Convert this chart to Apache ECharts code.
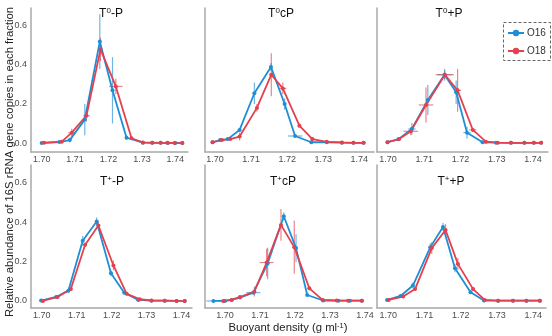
<!DOCTYPE html>
<html>
<head>
<meta charset="utf-8">
<script src="https://cdn.jsdelivr.net/npm/echarts@6/dist/echarts.min.js"></script>
<style>
  html, body { margin: 0; padding: 0; background: #fff; }
  #chart { width: 552px; height: 336px; }
</style>
</head>
<body>
<div id="chart"></div>
<script>
// rows: [buoyant density, relative abundance, density sd, abundance sd]
var t0P_O16 = [[1.7000,0.000,0.0003,0.003],[1.7053,0.005,0.0005,0.003],[1.7084,0.015,0.0005,0.012],[1.7129,0.120,0.0005,0.080],[1.7174,0.520,0.0005,0.140],[1.7212,0.270,0.0005,0.170],[1.7254,0.027,0.0005,0.010],[1.7303,0.002,0.0005,0.002],[1.7331,0.001,0.0005,0.002],[1.7356,0.001,0.0005,0.002],[1.7378,0.000,0.0005,0.002],[1.7400,0.000,0.0005,0.002],[1.7421,0.000,0.0005,0.002]];
var t0P_O18 = [[1.7007,0.002,0.0005,0.003],[1.7060,0.007,0.0005,0.004],[1.7090,0.053,0.0010,0.020],[1.7134,0.140,0.0010,0.030],[1.7176,0.480,0.0005,0.060],[1.7222,0.290,0.0020,0.040],[1.7269,0.024,0.0005,0.006],[1.7303,0.003,0.0005,0.002],[1.7331,0.002,0.0005,0.002],[1.7356,0.001,0.0005,0.002],[1.7376,0.001,0.0005,0.002],[1.7398,0.000,0.0005,0.002],[1.7421,0.000,0.0005,0.002]];

var t0cP_O16 = [[1.6993,0.004,0.0005,0.003],[1.7014,0.015,0.0005,0.004],[1.7035,0.020,0.0005,0.004],[1.7068,0.067,0.0005,0.010],[1.7109,0.255,0.0005,0.055],[1.7155,0.390,0.0005,0.020],[1.7193,0.200,0.0005,0.030],[1.7222,0.036,0.0020,0.005],[1.7267,0.004,0.0005,0.002],[1.7310,0.004,0.0005,0.002],[1.7352,0.002,0.0005,0.002],[1.7384,0.001,0.0005,0.002],[1.7412,0.001,0.0005,0.002]];
var t0cP_O18 = [[1.6993,0.004,0.0005,0.003],[1.7019,0.015,0.0005,0.004],[1.7042,0.020,0.0005,0.004],[1.7068,0.033,0.0005,0.020],[1.7116,0.180,0.0005,0.020],[1.7156,0.350,0.0005,0.110],[1.7188,0.280,0.0010,0.030],[1.7234,0.089,0.0005,0.010],[1.7270,0.020,0.0005,0.004],[1.7310,0.006,0.0005,0.002],[1.7352,0.003,0.0005,0.002],[1.7384,0.001,0.0005,0.002],[1.7412,0.001,0.0005,0.002]];

var t0pP_O16 = [[1.6999,0.004,0.0005,0.003],[1.7029,0.019,0.0005,0.005],[1.7066,0.072,0.0010,0.030],[1.7110,0.220,0.0005,0.077],[1.7156,0.350,0.0020,0.030],[1.7188,0.260,0.0005,0.060],[1.7218,0.053,0.0010,0.030],[1.7261,0.004,0.0005,0.002],[1.7298,0.002,0.0005,0.002],[1.7339,0.001,0.0005,0.002],[1.7376,0.001,0.0005,0.002],[1.7402,0.001,0.0005,0.002],[1.7422,0.001,0.0005,0.002]];
var t0pP_O18 = [[1.6999,0.004,0.0005,0.003],[1.7031,0.020,0.0005,0.005],[1.7063,0.060,0.0020,0.020],[1.7105,0.195,0.0020,0.090],[1.7157,0.350,0.0025,0.020],[1.7192,0.270,0.0010,0.110],[1.7234,0.067,0.0010,0.010],[1.7270,0.007,0.0005,0.002],[1.7303,0.002,0.0005,0.002],[1.7339,0.001,0.0005,0.002],[1.7376,0.001,0.0005,0.002],[1.7402,0.001,0.0005,0.002],[1.7422,0.001,0.0005,0.002]];

var tpP_O16 = [[1.6998,0.002,0.0005,0.003],[1.7041,0.020,0.0005,0.005],[1.7076,0.052,0.0005,0.010],[1.7117,0.305,0.0005,0.025],[1.7157,0.403,0.0005,0.020],[1.7198,0.140,0.0005,0.015],[1.7236,0.042,0.0005,0.008],[1.7276,0.005,0.0005,0.002],[1.7314,0.001,0.0005,0.002],[1.7352,0.001,0.0005,0.002],[1.7386,0.000,0.0005,0.002],[1.7409,0.000,0.0005,0.002]];
var tpP_O18 = [[1.7003,0.000,0.0005,0.003],[1.7045,0.020,0.0005,0.005],[1.7083,0.060,0.0005,0.008],[1.7124,0.285,0.0005,0.010],[1.7162,0.383,0.0005,0.020],[1.7205,0.180,0.0005,0.025],[1.7243,0.036,0.0005,0.008],[1.7280,0.009,0.0005,0.002],[1.7314,0.002,0.0005,0.002],[1.7352,0.001,0.0005,0.002],[1.7386,0.000,0.0005,0.002],[1.7409,0.000,0.0005,0.002]];

var tpcP_O16 = [[1.6967,0.000,0.0020,0.001],[1.7000,0.000,0.0005,0.002],[1.7019,0.005,0.0005,0.002],[1.7043,0.017,0.0005,0.004],[1.7081,0.042,0.0020,0.005],[1.7122,0.190,0.0005,0.080],[1.7168,0.430,0.0005,0.020],[1.7203,0.268,0.0005,0.070],[1.7235,0.030,0.0005,0.005],[1.7281,0.002,0.0005,0.002],[1.7324,0.001,0.0005,0.002],[1.7357,0.001,0.0005,0.002],[1.7391,0.001,0.0005,0.002]];
var tpcP_O18 = [[1.6995,0.000,0.0005,0.002],[1.7019,0.005,0.0005,0.002],[1.7043,0.020,0.0005,0.004],[1.7084,0.047,0.0005,0.025],[1.7119,0.195,0.0020,0.070],[1.7160,0.386,0.0005,0.080],[1.7198,0.273,0.0005,0.135],[1.7241,0.064,0.0005,0.010],[1.7279,0.005,0.0005,0.002],[1.7319,0.002,0.0005,0.002],[1.7352,0.001,0.0005,0.002],[1.7391,0.001,0.0005,0.002]];

var tppP_O16 = [[1.6997,0.005,0.0005,0.003],[1.7034,0.025,0.0005,0.005],[1.7068,0.078,0.0005,0.015],[1.7116,0.273,0.0005,0.020],[1.7151,0.375,0.0005,0.020],[1.7184,0.166,0.0005,0.020],[1.7227,0.044,0.0005,0.006],[1.7264,0.002,0.0005,0.002],[1.7303,0.001,0.0005,0.002],[1.7344,0.001,0.0005,0.002],[1.7381,0.001,0.0005,0.002],[1.7418,0.001,0.0005,0.002]];
var tppP_O18 = [[1.7001,0.005,0.0005,0.003],[1.7041,0.022,0.0005,0.005],[1.7074,0.060,0.0005,0.008],[1.7120,0.268,0.0005,0.030],[1.7158,0.360,0.0005,0.030],[1.7192,0.188,0.0005,0.030],[1.7234,0.060,0.0005,0.010],[1.7266,0.005,0.0005,0.002],[1.7303,0.001,0.0005,0.002],[1.7344,0.001,0.0005,0.002],[1.7381,0.001,0.0005,0.002],[1.7418,0.001,0.0005,0.002]];

var seriesNames = ['O16', 'O18'];
var panelData = [
  [t0P_O16, t0P_O18], [t0cP_O16, t0cP_O18], [t0pP_O16, t0pP_O18],
  [tpP_O16, tpP_O18], [tpcP_O16, tpcP_O18], [tppP_O16, tppP_O18]
];
// title = T + superscript + suffix
var panelSup = ['0', '0', '0', '+', '+', '+'];
var panelSuffix = ['-P', 'cP', '+P', '-P', 'cP', '+P'];
var xTicks = [1.70, 1.71, 1.72, 1.73, 1.74];
var yTicks = [0, 0.2, 0.4, 0.6];

// layout of each facet (pixels) and its axis ranges
var boxes = [
  {left: 31,  top: 8,   width: 157, height: 144, xMin: 1.6968, xMax: 1.7438, yMin: -0.046, yMax: 0.692, tx: 111, ty: 14},
  {left: 205, top: 8,   width: 169, height: 144, xMin: 1.6972, xMax: 1.7441, yMin: -0.046, yMax: 0.692, tx: 281, ty: 14},
  {left: 377, top: 8,   width: 171, height: 144, xMin: 1.6970, xMax: 1.7441, yMin: -0.046, yMax: 0.692, tx: 449, ty: 14},
  {left: 31,  top: 165, width: 161, height: 143, xMin: 1.6969, xMax: 1.7430, yMin: -0.036, yMax: 0.690, tx: 112, ty: 182},
  {left: 205, top: 165, width: 167, height: 143, xMin: 1.6943, xMax: 1.7420, yMin: -0.036, yMax: 0.690, tx: 283, ty: 182},
  {left: 377, top: 165, width: 169, height: 143, xMin: 1.6969, xMax: 1.7435, yMin: -0.036, yMax: 0.690, tx: 451, ty: 182}
];

var colors = ['#1e8fd5', '#e5404d'];
var font = 'Liberation Sans, Arial, sans-serif';

function renderErr(params, api) {
  var x = api.value(0), y = api.value(1), dx = api.value(2), dy = api.value(3);
  var c = api.coord([x, y]);
  var t = api.coord([x, y + dy]), b = api.coord([x, y - dy]);
  var l = api.coord([x - dx, y]), r = api.coord([x + dx, y]);
  var style = {stroke: api.visual('color'), lineWidth: 1.2, opacity: 0.65};
  return {
    type: 'group',
    children: [
      {type: 'line', shape: {x1: c[0], y1: t[1], x2: c[0], y2: b[1]}, style: style},
      {type: 'line', shape: {x1: l[0], y1: c[1], x2: r[0], y2: c[1]}, style: style}
    ]
  };
}

var grid = [], xAxis = [], yAxis = [], series = [], graphic = [];
var axisLine = {show: true, onZero: false, lineStyle: {color: '#a8a8a8', width: 1.5}};

boxes.forEach(function (bx, i) {
  grid.push({left: bx.left, top: bx.top, width: bx.width, height: bx.height, containLabel: false});
  xAxis.push({
    type: 'value', gridIndex: i, min: bx.xMin, max: bx.xMax,
    axisLine: axisLine, axisTick: {show: false}, splitLine: {show: false},
    axisLabel: {customValues: xTicks, formatter: function (v) { return v.toFixed(2); },
      fontSize: 9, color: '#4d4d4d', margin: 3, fontFamily: font}
  });
  yAxis.push({
    type: 'value', gridIndex: i, min: bx.yMin, max: bx.yMax,
    axisLine: axisLine, axisTick: {show: false}, splitLine: {show: false},
    axisLabel: {show: i % 3 === 0, customValues: yTicks, formatter: function (v) { return v.toFixed(1); },
      fontSize: 9, color: '#4d4d4d', margin: 4, fontFamily: font}
  });
  panelData[i].forEach(function (rows, k) {
    series.push({
      name: seriesNames[k], type: 'line', xAxisIndex: i, yAxisIndex: i,
      data: rows, encode: {x: 0, y: 1},
      symbol: 'circle', symbolSize: 4, showSymbol: true,
      lineStyle: {width: 1.8, color: colors[k]}, itemStyle: {color: colors[k]},
      z: 3
    });
    series.push({
      name: seriesNames[k] + ' sd', type: 'custom', xAxisIndex: i, yAxisIndex: i,
      renderItem: renderErr, data: rows, encode: {x: 0, y: 1},
      itemStyle: {color: colors[k]}, z: 2, silent: true
    });
  });
  graphic.push({
    type: 'text', x: bx.tx, y: bx.ty,
    style: {
      text: '{b|T}{s|' + panelSup[i] + '}{b|' + panelSuffix[i] + '}',
      textAlign: 'center', textVerticalAlign: 'middle',
      rich: {
        b: {fontSize: 12, fontFamily: font, fill: '#111', lineHeight: 14},
        s: {fontSize: 8, fontFamily: font, fill: '#111', lineHeight: 8, verticalAlign: 'top'}
      }
    }
  });
});

// axis titles
graphic.push({
  type: 'text', x: 10, y: 162, rotation: Math.PI / 2,
  style: {text: 'Relative abundance of 16S rRNA gene copies in each fraction',
    textAlign: 'center', textVerticalAlign: 'middle', fontSize: 11.3, fontFamily: font, fill: '#222'}
});
graphic.push({
  type: 'text', x: 288, y: 328,
  style: {
    text: '{b|Buoyant density (g ml}{s|-1}{b|)}',
    textAlign: 'center', textVerticalAlign: 'middle',
    rich: {
      b: {fontSize: 11.3, fontFamily: font, fill: '#222', lineHeight: 13},
      s: {fontSize: 7.5, fontFamily: font, fill: '#222', lineHeight: 8, verticalAlign: 'top'}
    }
  }
});
// dashed legend frame
graphic.push({
  type: 'rect', shape: {x: 503.5, y: 22.5, width: 47, height: 38},
  style: {fill: '#fff', stroke: '#666', lineWidth: 1, lineDash: [3, 2]}, z: 0
});

var chart = echarts.init(document.getElementById('chart'), null, {renderer: 'canvas'});
chart.setOption({
  animation: false,
  color: colors,
  grid: grid,
  xAxis: xAxis,
  yAxis: yAxis,
  legend: {
    data: seriesNames, orient: 'vertical', left: 507, top: 28, padding: 0,
    itemWidth: 16, itemHeight: 8, itemGap: 8,
    textStyle: {fontSize: 10, color: '#333', fontFamily: font, padding: [0, 0, 0, -2]},
    z: 10
  },
  graphic: graphic,
  series: series
});
</script>
</body>
</html>
